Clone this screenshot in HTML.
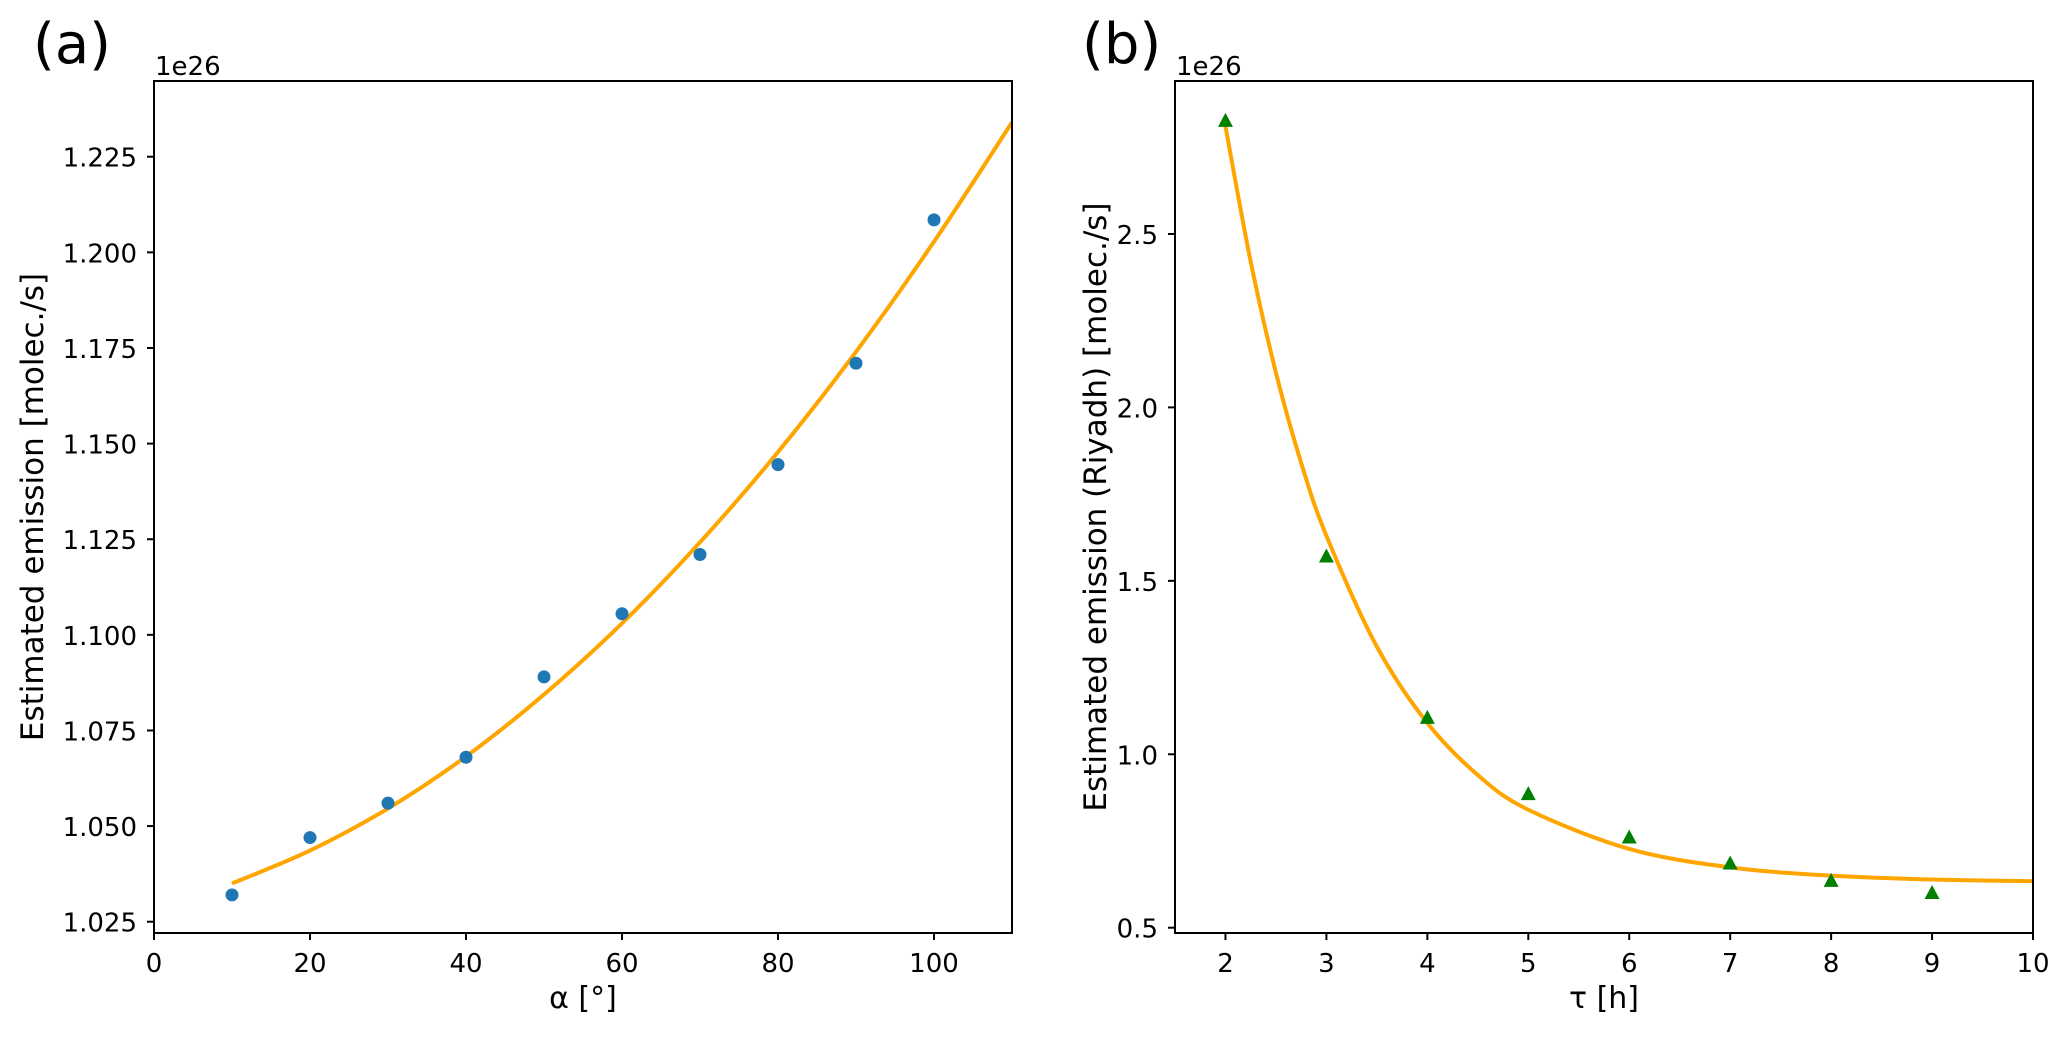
<!DOCTYPE html>
<html><head><meta charset="utf-8"><style>
body{margin:0;background:#fff}
svg text{font-family:"DejaVu Sans","Liberation Sans",sans-serif;fill:#000}
</style></head><body>
<svg id="fig" width="2067" height="1033" viewBox="0 0 2067 1033" xmlns="http://www.w3.org/2000/svg">
<text x="33" y="63" font-size="56">(a)</text>
<text x="1082" y="63" font-size="56">(b)</text>
<text x="155" y="75" font-size="26">1e26</text>
<text x="1176" y="75" font-size="26">1e26</text>
<text x="583" y="1008" font-size="30" text-anchor="middle">α [°]</text>
<text x="1604" y="1008" font-size="30" text-anchor="middle">τ [h]</text>
<text transform="translate(43,507) rotate(-90)" font-size="31" text-anchor="middle">Estimated emission [molec./s]</text>
<text transform="translate(1106,507) rotate(-90)" font-size="31" text-anchor="middle">Estimated emission (Riyadh) [molec./s]</text>
<g id="gA"></g>
<g id="gB"></g>
</svg>
<script>
// Panel (a)
const alphaX=[10,20,30,40,50,60,70,80,90,100];
const alphaY=[1.032,1.047,1.056,1.068,1.089,1.1055,1.121,1.1445,1.171,1.2085];
const alphaFitX=[10,20,30,40,50,60,70,80,90,100,110];
const alphaFitY=[1.035,1.0436,1.0546,1.0682,1.0844,1.103,1.1242,1.1478,1.174,1.2028,1.234];
const alphaXTicks=[0,20,40,60,80,100];
const alphaYTicks=[1.025,1.050,1.075,1.100,1.125,1.150,1.175,1.200,1.225];
// Panel (b)
const tauX=[2,3,4,5,6,7,8,9];
const tauY=[2.826,1.57,1.105,0.885,0.76,0.685,0.635,0.60];
const tauFitX=[2,2.25,2.5,2.75,3,3.5,4,4.5,5,6,7,8,9,10];
const tauFitY=[2.81,2.42,2.10,1.84,1.63,1.31,1.09,0.94,0.84,0.727,0.674,0.65,0.639,0.634];
const tauXTicks=[2,3,4,5,6,7,8,9,10];
const tauYTicks=[0.5,1.0,1.5,2.0,2.5];

const NS="http://www.w3.org/2000/svg";
function mk(p,t,a){const e=document.createElementNS(NS,t);for(const k in a)e.setAttribute(k,a[k]);p.appendChild(e);return e;}
function lin(d0,d1,r0,r1){return v=>r0+(v-d0)/(d1-d0)*(r1-r0);}
function spline(pts){let d="M"+pts[0][0]+","+pts[0][1];for(let i=0;i<pts.length-1;i++){const p0=pts[Math.max(0,i-1)],p1=pts[i],p2=pts[i+1],p3=pts[Math.min(pts.length-1,i+2)];const c1=[p1[0]+(p2[0]-p0[0])/6,p1[1]+(p2[1]-p0[1])/6],c2=[p2[0]-(p3[0]-p1[0])/6,p2[1]-(p3[1]-p1[1])/6];d+=" C"+c1+" "+c2+" "+p2;}return d;}

function panel(g,L,R,T,B,xd,yd,xt,yt,yfmt,fx,fy,px,py,marker,name){
  const X=lin(xd[0],xd[1],L,R),Y=lin(yd[0],yd[1],B,T);
  const cp=mk(g,"clipPath",{id:"c"+name});mk(cp,"rect",{x:L,y:T,width:R-L,height:B-T});
  const line=mk(g,"path",{d:spline(fx.map((v,i)=>[X(v),Y(fy[i])])),fill:"none",stroke:"#ffa500",'stroke-width':4,'clip-path':"url(#c"+name+")"});
  
  
  px.forEach((v,i)=>{
    const x=X(v),y=Y(py[i]);let m;
    if(marker==="o"){m=mk(g,"circle",{cx:x,cy:y,r:6.5,fill:"#1f77b4"});}
    else{m=mk(g,"polygon",{points:`${x},${y-8} ${x-7.5},${y+6} ${x+7.5},${y+6}`,fill:"#008000"});}
    
    
  });
  mk(g,"rect",{x:L,y:T,width:R-L,height:B-T,fill:"none",stroke:"#000",'stroke-width':2});
  xt.forEach(v=>{const x=X(v);mk(g,"line",{x1:x,x2:x,y1:B,y2:B+7,stroke:"#000",'stroke-width':2});
    const t=mk(g,"text",{x:x,y:B+39,'font-size':26,'text-anchor':"middle"});t.textContent=String(v);
    
    });
  yt.forEach(v=>{const y=Y(v);mk(g,"line",{x1:L-7,x2:L,y1:y,y2:y,stroke:"#000",'stroke-width':2});
    const t=mk(g,"text",{x:L-17,y:y+10,'font-size':26,'text-anchor':"end"});t.textContent=v.toFixed(yfmt);
    
    });
}
panel(document.getElementById("gA"),154,1012,81,933,[0,110],[1.02205,1.2448],alphaXTicks,alphaYTicks,3,alphaFitX,alphaFitY,alphaX,alphaY,"o","a");
panel(document.getElementById("gB"),1175,2033,81,933,[1.5,10],[0.4847,2.941],tauXTicks,tauYTicks,1,tauFitX,tauFitY,tauX,tauY,"^","b");
</script>
</body></html>
